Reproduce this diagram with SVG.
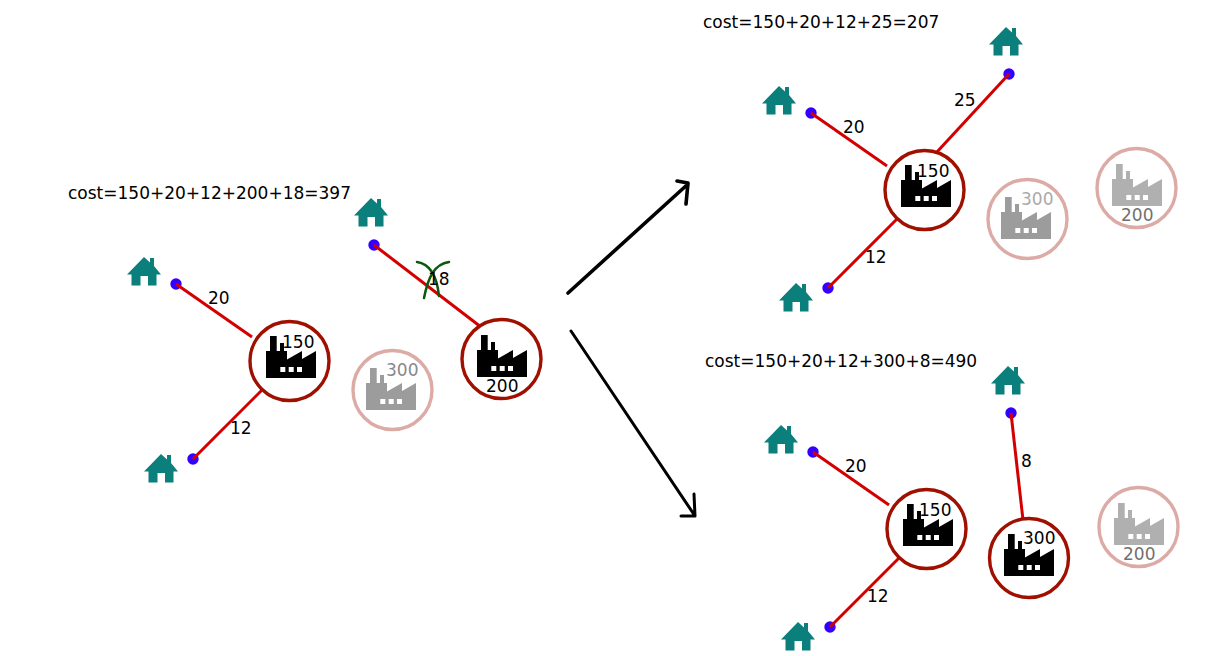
<svg xmlns="http://www.w3.org/2000/svg" xmlns:xlink="http://www.w3.org/1999/xlink" width="1216" height="656" viewBox="0 0 1216 656">
<style>
text{font-family:"DejaVu Sans",sans-serif;font-size:17px;fill:#000}
.ring{fill:#fff;stroke:#a01000;stroke-width:3.4}
.fade{stroke:#dcaba6}
.dot{fill:#3300ff}
.edge{stroke:#d40000;stroke-width:3;fill:none}
.arrow{stroke:#000;fill:none;stroke-linecap:round;stroke-linejoin:round}
.cross{stroke:#0b5a0b;stroke-width:2.5;fill:none;stroke-linecap:round}
</style>
<defs>
<g id="house"><path fill="#0a7f7b" d="M17 0 23 5.500V1H27V9L34 17.500H29.500V28.500H21V19H13.500V28.500H4.500V17.500H0Z"/></g>
<path id="factory" fill-rule="evenodd" d="M0 15H4V0H10.700V15H14V7H18V15H21V23.500L36 15V23L50 15V42H0ZM14.300 31V36H19.300V31ZM22.700 31V36H27.700V31ZM31 31V36H36V31Z"/>
</defs>
<g id="totals">
<text x="68" y="199">cost=150+20+12+200+18=397</text>
<text x="703" y="28">cost=150+20+12+25=207</text>
<text x="705" y="367">cost=150+20+12+300+8=490</text>
</g>
<g id="house-a1"><use xlink:href="#house" href="#house" x="127" y="257"/><circle class="dot" cx="176" cy="284" r="5.700"/></g>
<g id="house-a2"><use xlink:href="#house" href="#house" x="144" y="454"/><circle class="dot" cx="193" cy="459" r="5.700"/></g>
<g id="house-a3"><use xlink:href="#house" href="#house" x="354" y="198"/><circle class="dot" cx="374" cy="245" r="5.700"/></g>
<g id="house-b1"><use xlink:href="#house" href="#house" x="762" y="86"/><circle class="dot" cx="811" cy="113" r="5.700"/></g>
<g id="house-b2"><use xlink:href="#house" href="#house" x="779" y="283"/><circle class="dot" cx="828" cy="288" r="5.700"/></g>
<g id="house-b3"><use xlink:href="#house" href="#house" x="989" y="27"/><circle class="dot" cx="1009" cy="74" r="5.700"/></g>
<g id="house-c1"><use xlink:href="#house" href="#house" x="764" y="425"/><circle class="dot" cx="813" cy="452" r="5.700"/></g>
<g id="house-c2"><use xlink:href="#house" href="#house" x="781" y="622"/><circle class="dot" cx="830" cy="627" r="5.700"/></g>
<g id="house-c3"><use xlink:href="#house" href="#house" x="991" y="366"/><circle class="dot" cx="1011" cy="413" r="5.700"/></g>
<g id="connectors">
<path class="edge" d="M176 284 252 337"/>
<path class="edge" d="M193 459 263 389"/>
<path class="edge" d="M374 245 481 327"/>
<path class="edge" d="M811 113 887 166"/>
<path class="edge" d="M828 288 898 218"/>
<path class="edge" d="M1009 74 936 153"/>
<path class="edge" d="M813 452 889 505"/>
<path class="edge" d="M830 627 900 557"/>
<path class="edge" d="M1011 413 1023 520"/>
<path class="arrow" stroke-width="3.600" d="M568 293 688 184M677 181 688 183 686 204"/>
<path class="arrow" stroke-width="3" d="M571 331 695 516M681 516 695 516 694 494"/>
<path class="cross" d="M417 262C431 264 437 277 439 296"/>
<path class="cross" d="M449 262C434 264 428 278 424 298"/>
</g>
<g id="edge-labels">
<text x="208" y="304">20</text>
<text x="230" y="434">12</text>
<text x="428" y="285">18</text>
<text x="843" y="133">20</text>
<text x="865" y="263">12</text>
<text x="954" y="106">25</text>
<text x="845" y="472">20</text>
<text x="867" y="602">12</text>
<text x="1021" y="467">8</text>
</g>
<g id="factory-a150"><circle class="ring" cx="289.500" cy="361" r="39.500"/><use xlink:href="#factory" href="#factory" x="266" y="336"/><text x="282" y="348">150</text></g>
<g id="factory-a300"><circle class="ring fade" cx="392.500" cy="390" r="39.500"/><use xlink:href="#factory" href="#factory" x="366" y="368" fill="#9c9c9c"/><text x="386" y="376" style="fill:#888">300</text></g>
<g id="factory-a200"><circle class="ring" cx="501.500" cy="359" r="39.500"/><use xlink:href="#factory" href="#factory" x="477" y="335"/><text x="486" y="392">200</text></g>
<g id="factory-b150"><circle class="ring" cx="924.500" cy="190" r="39.500"/><use xlink:href="#factory" href="#factory" x="901" y="165"/><text x="917" y="177">150</text></g>
<g id="factory-b300"><circle class="ring fade" cx="1027.500" cy="219" r="39.500"/><use xlink:href="#factory" href="#factory" x="1001" y="197" fill="#9c9c9c"/><text x="1021" y="205" style="fill:#aaa">300</text></g>
<g id="factory-b200"><circle class="ring fade" cx="1136.500" cy="188" r="39.500"/><use xlink:href="#factory" href="#factory" x="1112" y="164" fill="#b0b0b0"/><text x="1121" y="221" style="fill:#707070">200</text></g>
<g id="factory-c150"><circle class="ring" cx="926.500" cy="529" r="39.500"/><use xlink:href="#factory" href="#factory" x="903" y="504"/><text x="919" y="516">150</text></g>
<g id="factory-c300"><circle class="ring" cx="1029" cy="558" r="39.500"/><use xlink:href="#factory" href="#factory" x="1004" y="534"/><text x="1023" y="544">300</text></g>
<g id="factory-c200"><circle class="ring fade" cx="1138.500" cy="527" r="39.500"/><use xlink:href="#factory" href="#factory" x="1114" y="503" fill="#b0b0b0"/><text x="1123" y="560" style="fill:#707070">200</text></g>
</svg>
